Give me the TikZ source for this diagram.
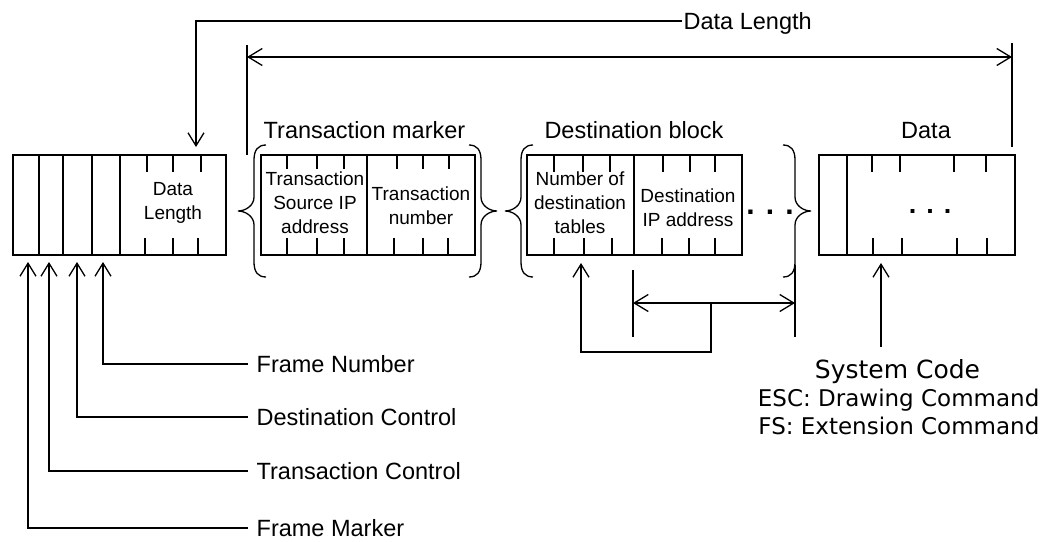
\documentclass[tikz,border=0pt]{standalone}
\usepackage{fontspec}
\setmainfont{Liberation Sans}
\newfontfamily\dejavu{DejaVu Sans}
\usetikzlibrary{arrows.meta}
\newcommand\mybraceL[3]{% vertical x, top y, bottom y  (opening brace)
  \draw (#1+12,#2) .. controls (#1+4,#2) and (#1,#2+5) .. (#1,#2+15)
    -- (#1,{(#2+#3)/2-14}) .. controls (#1,{(#2+#3)/2-5}) and (#1-9,{(#2+#3)/2}) .. (#1-16,{(#2+#3)/2})
    .. controls (#1-9,{(#2+#3)/2}) and (#1,{(#2+#3)/2+5}) .. (#1,{(#2+#3)/2+14})
    -- (#1,#3-15) .. controls (#1,#3-5) and (#1+4,#3) .. (#1+12,#3);}
\newcommand\mybraceR[3]{% closing brace
  \draw (#1-12,#2) .. controls (#1-4,#2) and (#1,#2+5) .. (#1,#2+15)
    -- (#1,{(#2+#3)/2-14}) .. controls (#1,{(#2+#3)/2-5}) and (#1+9,{(#2+#3)/2}) .. (#1+16,{(#2+#3)/2})
    .. controls (#1+9,{(#2+#3)/2}) and (#1,{(#2+#3)/2+5}) .. (#1,{(#2+#3)/2+14})
    -- (#1,#3-15) .. controls (#1,#3-5) and (#1-4,#3) .. (#1-12,#3);}
\begin{document}
\begin{tikzpicture}[x=1pt,y=-1pt,line width=1.3pt,
  arr/.style={-{Straight Barb[length=13pt,width=16pt]}},
  darr/.style={{Straight Barb[length=14pt,width=17pt]}-{Straight Barb[length=14pt,width=17pt]}},
  frame/.style={draw, rectangle, inner sep=0pt, minimum height=100pt},
  lbl/.style={font=\fontsize{23.5}{28}\selectfont, inner sep=0pt, text depth=0pt},
  tag/.style={font=\fontsize{23.5}{28}\selectfont, inner ysep=0pt, inner xsep=8pt, text depth=0pt, anchor=west},
  intext/.style={font=\fontsize{19}{24}\selectfont, align=center, inner sep=0pt},
  sys/.style={font=\dejavu\fontsize{23}{28}\selectfont, inner sep=0pt},
  dotsA/.style={font=\bfseries\fontsize{30}{30}\selectfont, inner sep=0pt, anchor=base},
  dotsB/.style={font=\bfseries\fontsize{27}{27}\selectfont, inner sep=0pt, anchor=base},
]
\useasboundingbox (0,0) rectangle (1051,541);

% boxes
\node[frame, minimum width=213pt] (lbox) at (119.5,205) {};
\node[frame, minimum width=214pt] (tbox) at (368,205) {};
\node[frame, minimum width=215pt] (dbox) at (634.5,205) {};
\node[frame, minimum width=196pt] (xbox) at (917,205) {};

% dividers
\foreach \x in {39,63,92,120,367,634,847} \draw (\x,155) -- (\x,255);

% ticks
\foreach \x in {147,173,201,554,583,610,663,690,715,872,900,954,986}
  \draw (\x,155) -- (\x,172);
\foreach \x in {287,317,344,397,423,449}
  \draw (\x,155) -- (\x,169);
\foreach \x in {145,173,198,287,317,344,394,423,448,554,584,612,662,689,715,873,902,957,987}
  \draw (\x,255) -- (\x,238);

% box texts
\node[intext] (tl) at (173,203) {Data\\Length};
\node[intext] (tsrc) at (315,203) {Transaction\\Source IP\\address};
\node[intext] (tnum) at (421,206) {Transaction\\number};
\node[intext] (dnum) at (580,203) {Number of\\destination\\tables};
\node[intext] (dip) at (688,208) {Destination\\IP address};
\node[dotsA] (dd) at (770,214) {. . .};
\node[dotsB] (xd) at (930,213) {. . .};

% braces
\mybraceL{254}{145}{277}
\mybraceR{481}{145}{277}
\mybraceL{521}{145}{277}
\mybraceR{795}{145}{277}

% headings
\node[lbl, anchor=base] (htm) at (364.5,138) {Transaction marker};
\node[lbl, anchor=base] (hdb) at (634,138) {Destination block};
\node[lbl, anchor=base] (hda) at (926,138) {Data};

% data length
\node[tag, inner xsep=1pt] (dl) at (682,21) {Data Length};
\coordinate (dltip) at (196,147);
\draw[arr] (dl.west) -| (dltip);
\coordinate (spL) at (247,57);
\coordinate (spR) at (1012,57);
\draw (247,45) -- (247,155);
\draw (1012,43) -- (1012,147);
\draw[darr] (spL) -- (spR);

% destination repetition
\coordinate (rL) at (633,303);
\coordinate (rR) at (795,303);
\draw (633,270) -- (633,337);
\draw (795,265) -- (795,337);
\draw[darr] (rL) -- (rR);
\coordinate (rm1) at (711,303);
\coordinate (rm2) at (711,352);
\coordinate (rtip) at (581,263);
\draw[arr] (rm1) -- (rm2) -| (rtip);

% system code
\coordinate (sbase) at (881,347);
\coordinate (stip) at (881,263);
\draw[arr] (sbase) -- (stip);
\node[sys, font=\dejavu\fontsize{25}{28}\selectfont, anchor=base] (sc) at (897.5,378) {System Code};
\node[sys, anchor=base east] (esc) at (1040,406) {ESC: Drawing Command};
\node[sys, anchor=base east] (fs) at (1040,434) {FS: Extension Command};

% left labels
\node[tag] (fn) at (248,364) {Frame Number};
\node[tag] (dc) at (248,417) {Destination Control};
\node[tag] (tc) at (248,471) {Transaction Control};
\node[tag] (fm) at (248,528) {Frame Marker};
\coordinate (fntip) at (103,262);
\coordinate (dctip) at (77,262);
\coordinate (tctip) at (49,262);
\coordinate (fmtip) at (28,262);
\draw[arr] (fn.west) -| (fntip);
\draw[arr] (dc.west) -| (dctip);
\draw[arr] (tc.west) -| (tctip);
\draw[arr] (fm.west) -| (fmtip);
\end{tikzpicture}
\end{document}
